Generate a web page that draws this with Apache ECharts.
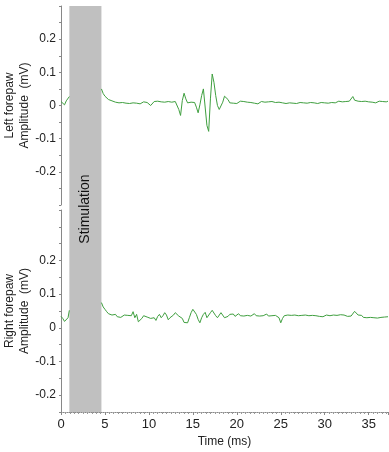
<!DOCTYPE html>
<html>
<head>
<meta charset="utf-8">
<script src="https://cdn.jsdelivr.net/npm/echarts@6/dist/echarts.min.js"></script>
<style>
html,body{margin:0;padding:0;background:#fff;}
#chart{width:389px;height:452px;}
</style>
</head>
<body>
<div id="chart"></div>
<script>
// Time sampling (ms)
const preTime = [0, 0.2, 0.4, 0.6, 0.8, 0.95];
const postStart = 4.6, postStep = 0.2;
const stimStart = 0.95, stimEnd = 4.6;
const xTicks = [0, 5, 10, 15, 20, 25, 30, 35];
const yTickLabels = [-0.2, -0.1, 0, 0.1, 0.2];

// Left forepaw amplitude (mV)
const leftPre = [0.012, 0.008, 0.002, 0.014, 0.008, 0.027];
const leftPost = [
  0.050, 0.036, 0.028, 0.022, 0.018, 0.020, 0.014, 0.016, 0.010, 0.013,
  0.008, 0.012, 0.009, 0.013, 0.007, 0.011, 0.006, 0.010, 0.008, 0.012,
  0.007, 0.009, 0.005, 0.008, 0.011, 0.006, 0.009, 0.004, 0.000, 0.006,
  0.012, 0.009, 0.013, 0.008, 0.011, 0.006, 0.010, 0.007, 0.012, 0.006,
  0.010, 0.008, 0.012, 0.006, -0.012, -0.030, 0.015, 0.037, 0.020, 0.008,
  0.014, 0.010, 0.016, 0.009, -0.005, -0.022, 0.002, 0.030, 0.050, 0.055,
  -0.060, -0.078, 0.020, 0.095, 0.070, 0.030, 0.000, -0.012, -0.014, 0.010,
  0.028, 0.032, 0.018, 0.008, 0.012, 0.007, 0.011, 0.006, 0.010, 0.013,
  0.008, 0.012, 0.006, 0.010, 0.004, 0.009, 0.012, 0.007, 0.011, 0.005,
  0.009, 0.012, 0.007, 0.010, 0.006, 0.011, 0.008, 0.012, 0.007, 0.009,
  0.005, 0.010, 0.013, 0.008, 0.011, 0.006, 0.010, 0.008, 0.012, 0.007,
  0.010, 0.006, 0.011, 0.009, 0.013, 0.008, 0.010, 0.007, 0.011, 0.009,
  0.012, 0.008, 0.010, 0.006, 0.011, 0.009, 0.013, 0.008, 0.010, 0.007,
  0.011, 0.009, 0.012, 0.008, 0.010, 0.013, 0.009, 0.011, 0.008, 0.012,
  0.010, 0.013, 0.018, 0.027, 0.016, 0.011, 0.013, 0.009, 0.012, 0.010,
  0.013, 0.009, 0.011, 0.014, 0.010, 0.012, 0.008, 0.011, 0.013, 0.010,
  0.012, 0.015, 0.011, 0.013
];

// Right forepaw amplitude (mV)
const rightPre = [0.034, 0.028, 0.019, 0.022, 0.030, 0.052];
const rightPost = [
  0.075, 0.062, 0.055, 0.048, 0.042, 0.044, 0.038, 0.036, 0.040, 0.033,
  0.036, 0.031, 0.035, 0.038, 0.033, 0.037, 0.034, 0.036, 0.048, 0.030,
  0.040, 0.018, 0.015, 0.028, 0.036, 0.039, 0.032, 0.037, 0.028, 0.024,
  0.030, 0.022, 0.034, 0.040, 0.030, 0.036, 0.045, 0.038, 0.024, 0.030,
  0.026, 0.038, 0.045, 0.040, 0.035, 0.040, 0.028, 0.016, 0.018, 0.015,
  0.030, 0.045, 0.055, 0.060, 0.040, 0.025, 0.015, 0.030, 0.040, 0.046,
  0.030, 0.034, 0.045, 0.052, 0.044, 0.036, 0.030, 0.035, 0.045, 0.040,
  0.030, 0.027, 0.034, 0.040, 0.036, 0.041, 0.034, 0.038, 0.042, 0.036,
  0.039, 0.035, 0.040, 0.037, 0.041, 0.035, 0.038, 0.042, 0.036, 0.039,
  0.035, 0.040, 0.036, 0.038, 0.041, 0.035, 0.039, 0.036, 0.040, 0.037,
  0.040, 0.030, 0.015, 0.028, 0.036, 0.032, 0.038, 0.034, 0.037, 0.033,
  0.038, 0.034, 0.036, 0.031, 0.037, 0.035, 0.038, 0.033, 0.036, 0.034,
  0.037, 0.032, 0.036, 0.039, 0.034, 0.037, 0.033, 0.036, 0.038, 0.034,
  0.036, 0.033, 0.038, 0.035, 0.037, 0.034, 0.039, 0.035, 0.038, 0.036,
  0.034, 0.037, 0.035, 0.040, 0.049, 0.044, 0.038, 0.034, 0.037, 0.031,
  0.035, 0.030, 0.034, 0.031, 0.036, 0.030, 0.033, 0.029, 0.034, 0.031,
  0.035, 0.032, 0.034, 0.033
];

const FONT = 'Liberation Sans, Arial, sans-serif';
const TRACE = '#3f9f3f';

function buildSeries(pre, post) {
  const d = [];
  pre.forEach((v, i) => d.push([preTime[i], v]));
  d.push([ (stimStart + stimEnd) / 2, null ]);
  post.forEach((v, i) => d.push([+(postStart + i * postStep).toFixed(2), v]));
  return d;
}

function yLabel(v) {
  const r = Math.round(v * 100) / 100;
  for (const t of yTickLabels) if (Math.abs(t - r) < 1e-6) return t === 0 ? '0' : String(t);
  return '';
}

function yAxisCfg(gi, min, max, name) {
  return {
    type: 'value', gridIndex: gi, min: min, max: max, interval: 0.05,
    name: name, nameLocation: 'middle', nameGap: 29, nameRotate: 90, nameMoveOverlap: false,
    nameTextStyle: { fontFamily: FONT, fontSize: 12, color: '#222', lineHeight: 15 },
    axisLine: { show: true, onZero: false, lineStyle: { color: '#888', width: 1 } },
    axisTick: { show: true, length: 2, lineStyle: { color: '#888' } },
    axisLabel: { formatter: yLabel, fontFamily: FONT, fontSize: 12, color: '#222', margin: 5 },
    splitLine: { show: false }
  };
}

const chart = echarts.init(document.getElementById('chart'), null, { renderer: 'canvas' });
chart.setOption({
  animation: false,
  backgroundColor: '#fff',
  grid: [
    { left: 61, right: 1, top: 6, height: 199, outerBoundsMode: 'none', containLabel: false },
    { left: 61, right: 1, top: 210, height: 202, outerBoundsMode: 'none', containLabel: false },
    { left: 61, right: 1, top: 6, height: 406, outerBoundsMode: 'none', containLabel: false }
  ],
  xAxis: [
    { type: 'value', gridIndex: 0, min: 0, max: 37.2, show: false },
    {
      type: 'value', gridIndex: 1, min: 0, max: 37.2, interval: 5,
      name: 'Time (ms)', nameLocation: 'middle', nameGap: 24, nameMoveOverlap: false,
      nameTextStyle: { fontFamily: FONT, fontSize: 12, color: '#222' },
      axisLine: { show: true, onZero: false, lineStyle: { color: '#888', type: 'dotted', width: 1 } },
      axisTick: { show: true, length: 3, lineStyle: { color: '#888' } },
      minorTick: { show: true, splitNumber: 10, length: 2, lineStyle: { color: '#999' } },
      axisLabel: {
        fontFamily: FONT, fontSize: 13, color: '#222', margin: 6,
        formatter: v => (xTicks.indexOf(Math.round(v)) >= 0 ? String(Math.round(v)) : '')
      },
      splitLine: { show: false }
    },
    { type: 'value', gridIndex: 2, min: 0, max: 37.2, show: false }
  ],
  yAxis: [
    yAxisCfg(0, -0.3, 0.3, 'Left forepaw\nAmplitude  (mV)'),
    yAxisCfg(1, -0.25, 0.35, 'Right forepaw\nAmplitude  (mV)'),
    { type: 'value', gridIndex: 2, min: 0, max: 1, show: false }
  ],
  series: [
    {
      type: 'line', xAxisIndex: 2, yAxisIndex: 2, z: 1,
      data: [[0, -1]], showSymbol: false, silent: true,
      lineStyle: { opacity: 0 },
      markArea: {
        silent: true,
        itemStyle: { color: '#c0c0c0' },
        label: {
          show: true, position: 'inside', rotate: 90, formatter: 'Stimulation',
          fontFamily: FONT, fontSize: 14, color: '#111'
        },
        data: [[{ xAxis: stimStart }, { xAxis: stimEnd }]]
      }
    },
    {
      type: 'line', xAxisIndex: 0, yAxisIndex: 0, z: 3,
      data: buildSeries(leftPre, leftPost), showSymbol: false, connectNulls: false,
      lineStyle: { color: TRACE, width: 1 }, silent: true
    },
    {
      type: 'line', xAxisIndex: 1, yAxisIndex: 1, z: 3,
      data: buildSeries(rightPre, rightPost), showSymbol: false, connectNulls: false,
      lineStyle: { color: TRACE, width: 1 }, silent: true
    }
  ]
});
</script>
</body>
</html>
